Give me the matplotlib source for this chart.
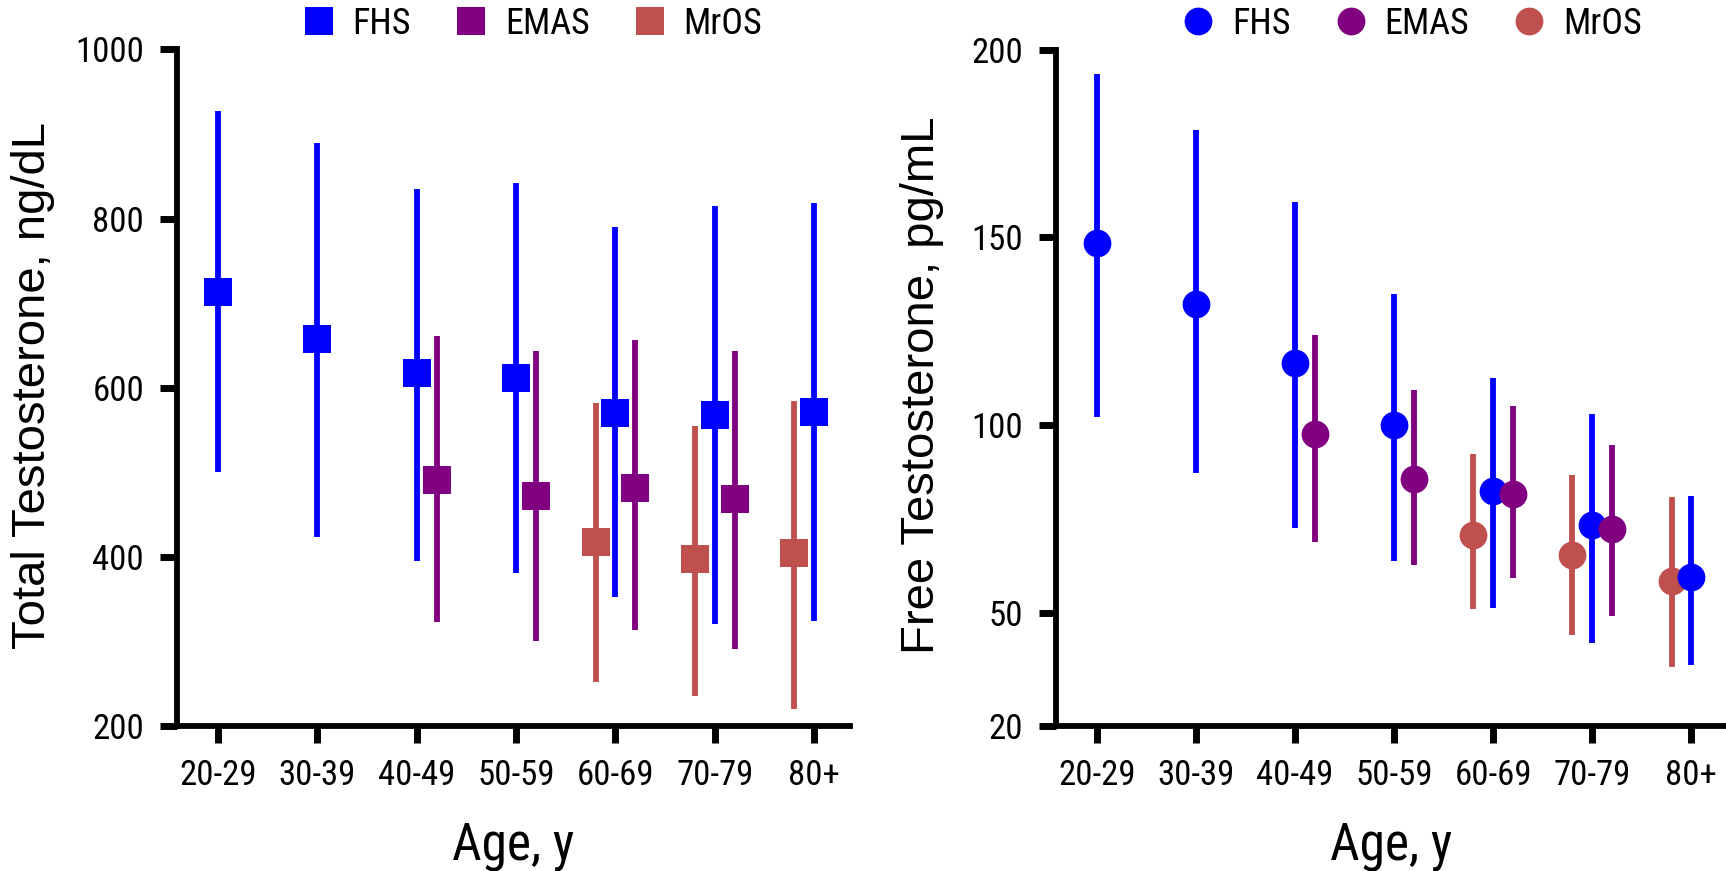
import numpy as np
import matplotlib
matplotlib.use("Agg")
import matplotlib.pyplot as plt
from matplotlib.lines import Line2D

# age groups
age_groups = ["20-29", "30-39", "40-49", "50-59", "60-69", "70-79", "80+"]

# total testosterone (ng/dL): median, upper, lower per age group (None = no data)
tt_fhs_mid = [713, 658, 617, 612, 570, 568, 571]
tt_fhs_hi = [927, 889, 835, 842, 790, 815, 818]
tt_fhs_lo = [500, 423, 395, 381, 352, 321, 324]

tt_emas_mid = [None, None, 491, 472, 482, 468, None]
tt_emas_hi = [None, None, 661, 643, 656, 644, None]
tt_emas_lo = [None, None, 323, 301, 314, 291, None]

tt_mros_mid = [None, None, None, None, 417, 397, 404]
tt_mros_hi = [None, None, None, None, 582, 555, 584]
tt_mros_lo = [None, None, None, None, 252, 236, 220]

# free testosterone (pg/mL)
ft_fhs_mid = [148.5, 132.4, 116.7, 100.0, 82.5, 73.6, 59.6]
ft_fhs_hi = [193.6, 178.6, 159.3, 134.9, 112.6, 103.0, 81.3]
ft_fhs_lo = [102.3, 87.2, 72.7, 63.9, 51.3, 42.2, 36.2]

ft_emas_mid = [None, None, 97.7, 85.8, 81.6, 72.3, None]
ft_emas_hi = [None, None, 124.1, 109.4, 105.1, 94.9, None]
ft_emas_lo = [None, None, 69.0, 62.9, 59.4, 49.2, None]

ft_mros_mid = [None, None, None, None, 70.9, 65.5, 58.6]
ft_mros_hi = [None, None, None, None, 92.3, 86.9, 81.0]
ft_mros_lo = [None, None, None, None, 51.2, 44.1, 35.6]

C_FHS = "#0000FF"
C_EMAS = "#800080"
C_MROS = "#C0504D"

NARROW = ["Roboto Condensed", "DejaVu Sans"]
REGULAR = ["Liberation Sans", "DejaVu Sans"]

plt.rcParams["font.family"] = NARROW


def draw_series(ax, mid, hi, lo, offset, color, marker):
    idx = [i for i, v in enumerate(mid) if v is not None]
    x = np.array(idx) + offset
    m = np.array([mid[i] for i in idx], dtype=float)
    h = np.array([hi[i] for i in idx], dtype=float)
    l = np.array([lo[i] for i in idx], dtype=float)
    ax.errorbar(x, m, yerr=[m - l, h - m], fmt=marker, color=color,
                ms=20, elinewidth=4.2, capsize=0, mew=0)


def style_axis(ax, yticks, ylabel, xlim):
    for s in ["top", "right"]:
        ax.spines[s].set_visible(False)
    for s in ["left", "bottom"]:
        ax.spines[s].set_linewidth(4.2)
    ax.tick_params(width=5, length=12.5, labelsize=25)
    ax.tick_params(axis="y", pad=11)
    ax.tick_params(axis="x", pad=11)
    ax.set_xticks(range(len(age_groups)))
    ax.set_xticklabels(age_groups)
    ax.set_xlim(*xlim)
    ax.set_ylim(yticks[0], yticks[-1])
    ax.set_yticks(yticks)
    ax.set_ylabel(ylabel, family=REGULAR, fontsize=34)
    ax.set_xlabel("Age, y", fontsize=37)


fig = plt.figure(figsize=(17.26, 8.71), dpi=100)
W, H = 1726, 871
ax1 = fig.add_axes([176.7 / W, 1 - 726 / H, (850 - 176.7) / W, 676.5 / H])
ax2 = fig.add_axes([1055.6 / W, 1 - 726 / H, (1726 - 1055.6) / W, 676.5 / H])

# left: total testosterone (squares)
draw_series(ax1, tt_mros_mid, tt_mros_hi, tt_mros_lo, -0.2, C_MROS, "s")
draw_series(ax1, tt_fhs_mid, tt_fhs_hi, tt_fhs_lo, 0.0, C_FHS, "s")
draw_series(ax1, tt_emas_mid, tt_emas_hi, tt_emas_lo, 0.2, C_EMAS, "s")
style_axis(ax1, [200, 400, 600, 800, 1000], "Total Testosterone, ng/dL", (-0.416, 6.36))
ax1.yaxis.set_label_coords(-0.181, 0.503)
ax1.xaxis.set_label_coords(0.5, -0.14)

# right: free testosterone (circles)
draw_series(ax2, ft_mros_mid, ft_mros_hi, ft_mros_lo, -0.2, C_MROS, "o")
draw_series(ax2, ft_fhs_mid, ft_fhs_hi, ft_fhs_lo, 0.0, C_FHS, "o")
draw_series(ax2, ft_emas_mid, ft_emas_hi, ft_emas_lo, 0.2, C_EMAS, "o")
style_axis(ax2, [20, 50, 100, 150, 200], "Free Testosterone, pg/mL", (-0.418, 6.35))
ax2.yaxis.set_label_coords(-0.166, 0.503)
ax2.xaxis.set_label_coords(0.5, -0.14)

names = ["FHS", "EMAS", "MrOS"]
colors = [C_FHS, C_EMAS, C_MROS]
for marker, cx in [("s", 0.309), ("o", 0.8186)]:
    handles = [Line2D([], [], ls="none", marker=marker, ms=20, mew=0, color=c)
               for c in colors]
    fig.legend(handles, names, loc="center", bbox_to_anchor=(cx, 0.9724), ncol=3,
               frameon=False, fontsize=26, handlelength=0.8, handletextpad=0.54,
               columnspacing=1.26, borderaxespad=0, borderpad=0)

fig.savefig("out.png", dpi=100)
